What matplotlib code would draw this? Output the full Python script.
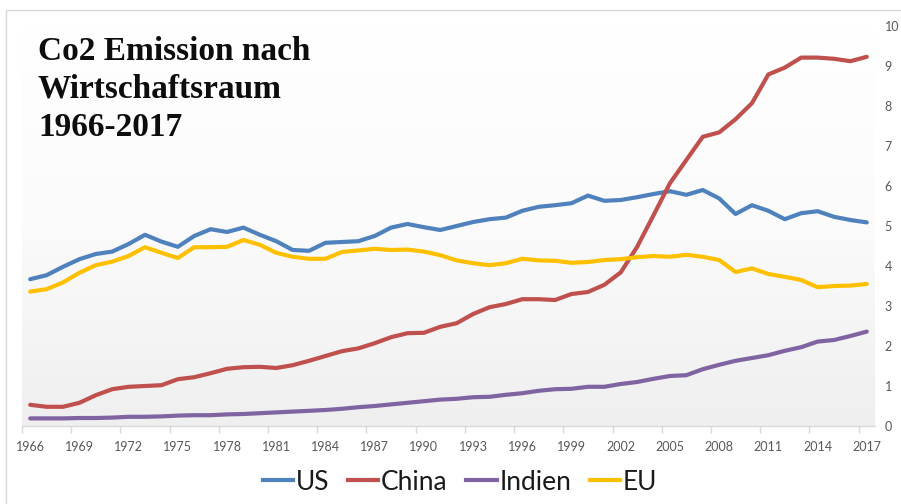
import numpy as np
import matplotlib
matplotlib.use("Agg")
import matplotlib.pyplot as plt
from matplotlib.colors import LinearSegmentedColormap
from matplotlib.lines import Line2D

years = list(range(1966, 2018))
us = [3.67, 3.77, 3.98, 4.17, 4.30, 4.36, 4.55, 4.78, 4.61, 4.48,
      4.75, 4.92, 4.85, 4.96, 4.78, 4.62, 4.40, 4.38, 4.58, 4.60,
      4.62, 4.75, 4.96, 5.05, 4.97, 4.90, 5.00, 5.10, 5.17, 5.21,
      5.38, 5.48, 5.52, 5.57, 5.76, 5.63, 5.65, 5.72, 5.80, 5.87,
      5.78, 5.90, 5.69, 5.30, 5.52, 5.38, 5.17, 5.32, 5.37, 5.23,
      5.15, 5.09]
china = [0.53, 0.48, 0.48, 0.58, 0.77, 0.92, 0.98, 1.00, 1.02, 1.17,
         1.22, 1.32, 1.43, 1.47, 1.48, 1.45, 1.52, 1.63, 1.75, 1.87,
         1.94, 2.07, 2.22, 2.32, 2.33, 2.48, 2.57, 2.80, 2.97, 3.05,
         3.17, 3.17, 3.15, 3.30, 3.35, 3.53, 3.84, 4.48, 5.27, 6.07,
         6.65, 7.23, 7.34, 7.67, 8.07, 8.79, 8.96, 9.21, 9.21, 9.18,
         9.12, 9.23]
indien = [0.19, 0.19, 0.19, 0.20, 0.20, 0.21, 0.23, 0.23, 0.24, 0.26,
          0.27, 0.27, 0.29, 0.30, 0.32, 0.34, 0.36, 0.38, 0.40, 0.43,
          0.47, 0.50, 0.54, 0.58, 0.62, 0.66, 0.68, 0.72, 0.73, 0.78,
          0.82, 0.88, 0.92, 0.93, 0.98, 0.98, 1.05, 1.10, 1.18, 1.25,
          1.27, 1.42, 1.53, 1.63, 1.70, 1.77, 1.88, 1.97, 2.11, 2.15,
          2.25, 2.36]
eu = [3.36, 3.42, 3.59, 3.83, 4.02, 4.11, 4.25, 4.47, 4.33, 4.20,
      4.47, 4.47, 4.48, 4.65, 4.53, 4.33, 4.23, 4.18, 4.18, 4.35,
      4.39, 4.43, 4.40, 4.41, 4.36, 4.27, 4.14, 4.07, 4.02, 4.07,
      4.18, 4.14, 4.13, 4.08, 4.10, 4.15, 4.17, 4.22, 4.25, 4.23,
      4.28, 4.23, 4.15, 3.85, 3.94, 3.80, 3.73, 3.65, 3.47, 3.50,
      3.51, 3.55]

series_names = ["US", "China", "Indien", "EU"]
series_colors = ["#4F81BD", "#C0504D", "#8064A2", "#FFC000"]
title_lines = ["Co2 Emission nach", "Wirtschaftsraum", "1966-2017"]
yticks = list(range(0, 11))
xlabel_years = list(range(1966, 2018, 3))

W, H = 901, 504
fig = plt.figure(figsize=(W / 100, H / 100), dpi=100)
fig.patch.set_facecolor("white")

# outer chart border
fig.add_artist(plt.Rectangle((6 / W, -0.1), 2, 1 - 10 / H + 0.1,
                             transform=fig.transFigure, fill=False,
                             edgecolor="#d9d9d9", linewidth=1.0))

left, right = 22 / W, 875 / W
bottom, top = 1 - 426 / H, 1 - 26 / H
ax = fig.add_axes([left, bottom, right - left, top - bottom])
ax.set_facecolor("white")

cmap = LinearSegmentedColormap.from_list("bg", ["#ffffff", "#fbfbfb", "#efefef"])
grad = np.linspace(0, 1, 256).reshape(-1, 1)
ax.imshow(grad, extent=(0, 1, 0, 1), transform=ax.transAxes, aspect="auto",
          cmap=cmap, zorder=0, origin="upper")

data = [us, china, indien, eu]
for vals, name, col in zip(data, series_names, series_colors):
    ax.plot(years, vals, color=col, linewidth=3.0, label=name,
            solid_capstyle="round", solid_joinstyle="round", zorder=3)

ax.set_xlim(1965.5, 2017.5)
ax.set_ylim(0, 10)

for s in ["top", "left", "right"]:
    ax.spines[s].set_visible(False)
ax.spines["bottom"].set_color("#d9d9d9")
ax.spines["bottom"].set_linewidth(1.0)

ax.set_xticks([y - 0.5 for y in xlabel_years], minor=False)
ax.set_xticklabels([])
ax.tick_params(axis="x", which="major", length=5, color="#d9d9d9", width=1)
ax.set_xticks(xlabel_years, minor=True)
ax.set_xticklabels([str(y) for y in xlabel_years], minor=True)
ax.tick_params(axis="x", which="minor", length=0, pad=11, labelsize=9,
               labelcolor="#595959")
for lbl in ax.get_xticklabels(minor=True):
    lbl.set_fontfamily("Lato")

ax.yaxis.tick_right()
ax.set_yticks(yticks)
ax.set_yticklabels([str(v) for v in yticks])
ax.tick_params(axis="y", length=0, pad=7, labelsize=9, labelcolor="#595959")
for lbl in ax.get_yticklabels():
    lbl.set_fontfamily("Lato")
    lbl.set_horizontalalignment("left")

for i, line in enumerate(title_lines):
    fig.text(38 / W, 1 - (60 + 38 * i) / H, line, fontfamily="Liberation Serif",
             fontweight="bold", fontsize=24, color="#0d0d0d", va="baseline",
             ha="left")

handles = [Line2D([0], [0], color=c, linewidth=3.0) for c in series_colors]
leg = fig.legend(handles, series_names, loc="center",
                 bbox_to_anchor=(460 / W, 1 - 482 / H), ncol=4, frameon=False,
                 prop={"family": "Lato", "size": 19}, handlelength=1.15,
                 handletextpad=0.1, columnspacing=0.7, borderaxespad=0)
for t in leg.get_texts():
    t.set_color("#1a1a1a")

fig.savefig("out.png", dpi=100, facecolor="white")
